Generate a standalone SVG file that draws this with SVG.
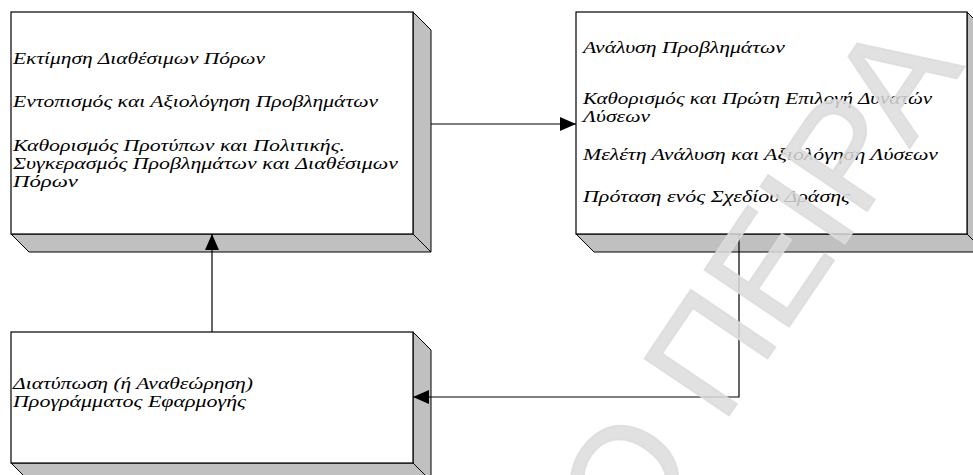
<svg xmlns="http://www.w3.org/2000/svg" width="973" height="475" viewBox="0 0 973 475">
<defs>
<style>
.front{fill:#ffffff;stroke:#000;stroke-width:1.2}
.bevel{fill:#c0c0c0;stroke:#000;stroke-width:1}
.lbl{font-family:"Liberation Serif","Times New Roman",serif;font-style:italic;font-size:17.5px;fill:#000}
.conn{fill:none;stroke:#000;stroke-width:1.2}
.wm{font-family:"Liberation Sans",Arial,sans-serif;font-size:148px;fill:#dcdcdc;fill-opacity:0.85;stroke:#dcdcdc;stroke-opacity:0.85;stroke-width:2}
</style>
<marker id="arr" markerUnits="userSpaceOnUse" markerWidth="17" markerHeight="14" refX="16" refY="7" orient="auto">
<path d="M0,0 L16,7 L0,14 z" fill="#000"/>
</marker>
</defs>
<rect width="973" height="475" fill="#fff"/>
<g id="node1">
<polygon class="bevel" points="413,12 431,30 431,252 413,234"/>
<polygon class="bevel" points="11,234 413,234 431,252 29,252"/>
<rect class="front" x="11" y="12" width="402" height="222"/>
<text class="lbl" x="13" y="64" textLength="252" lengthAdjust="spacingAndGlyphs">Εκτίμηση Διαθέσιμων Πόρων</text>
<text class="lbl" x="13" y="107" textLength="365" lengthAdjust="spacingAndGlyphs">Εντοπισμός και Αξιολόγηση Προβλημάτων</text>
<text class="lbl" x="13" y="151" textLength="332" lengthAdjust="spacingAndGlyphs">Καθορισμός Προτύπων και Πολιτικής.</text>
<text class="lbl" x="13" y="169" textLength="385" lengthAdjust="spacingAndGlyphs">Συγκερασμός Προβλημάτων και Διαθέσιμων</text>
<text class="lbl" x="13" y="187" textLength="65" lengthAdjust="spacingAndGlyphs">Πόρων</text>
</g>
<g id="node2">
<polygon class="bevel" points="967,12 985,30 985,252 967,234"/>
<polygon class="bevel" points="576,234 967,234 985,252 594,252"/>
<rect class="front" x="576" y="12" width="391" height="222"/>
<text class="lbl" x="583" y="53" textLength="202" lengthAdjust="spacingAndGlyphs">Ανάλυση Προβλημάτων</text>
<text class="lbl" x="583" y="104" textLength="349" lengthAdjust="spacingAndGlyphs">Καθορισμός και Πρώτη Επιλογή Δυνατών</text>
<text class="lbl" x="583" y="122" textLength="67" lengthAdjust="spacingAndGlyphs">Λύσεων</text>
<text class="lbl" x="583" y="160" textLength="355" lengthAdjust="spacingAndGlyphs">Μελέτη Ανάλυση και Αξιολόγηση Λύσεων</text>
<text class="lbl" x="583" y="202" textLength="267" lengthAdjust="spacingAndGlyphs">Πρόταση ενός Σχεδίου Δράσης</text>
</g>
<g id="node3">
<polygon class="bevel" points="413,332 431,350 431,481 413,463"/>
<polygon class="bevel" points="11,463 413,463 431,481 29,481"/>
<rect class="front" x="11" y="332" width="402" height="131"/>
<text class="lbl" x="13" y="389" textLength="240" lengthAdjust="spacingAndGlyphs">Διατύπωση (ή Αναθεώρηση)</text>
<text class="lbl" x="13" y="407" textLength="233" lengthAdjust="spacingAndGlyphs">Προγράμματος Εφαρμογής</text>
</g>
<g id="connectors">
<path class="conn" d="M431,124 H576" marker-end="url(#arr)"/>
<path class="conn" d="M739,234 V397 H413" marker-end="url(#arr)"/>
<path class="conn" d="M212,332 V234" marker-end="url(#arr)"/>
</g>
<text class="wm" transform="translate(635,555) rotate(-56)">Ο ΠΕΙΡΑ</text>
</svg>
